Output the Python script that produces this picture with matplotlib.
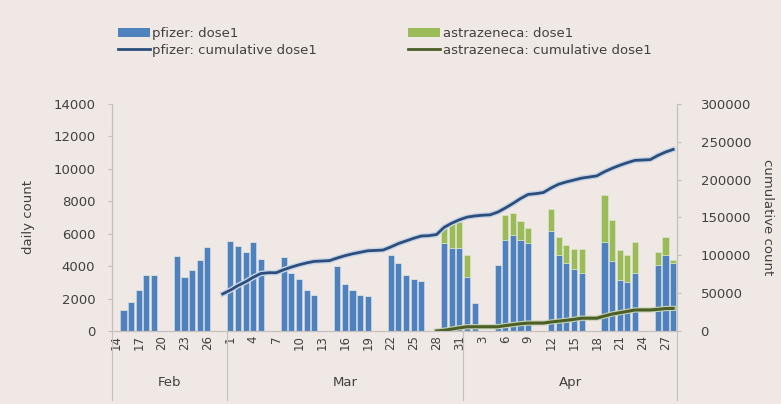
import numpy as np
import pandas as pd
import matplotlib
matplotlib.use("Agg")
import matplotlib.pyplot as plt
import matplotlib.patheffects as pe
import matplotlib.transforms as mtrans
from matplotlib.patches import Patch
from matplotlib.lines import Line2D

plt.rcParams['font.family'] = ['DejaVu Sans']

# category axis: every day from 14 Feb to 28 Apr 2021
days = pd.date_range('2021-02-14', '2021-04-28', freq='D')

# daily first doses (weekdays only)
dose_days = ['2021-02-15', '2021-02-16', '2021-02-17', '2021-02-18', '2021-02-19',
             '2021-02-22', '2021-02-23', '2021-02-24', '2021-02-25', '2021-02-26',
             '2021-03-01', '2021-03-02', '2021-03-03', '2021-03-04', '2021-03-05',
             '2021-03-08', '2021-03-09', '2021-03-10', '2021-03-11', '2021-03-12',
             '2021-03-15', '2021-03-16', '2021-03-17', '2021-03-18', '2021-03-19',
             '2021-03-22', '2021-03-23', '2021-03-24', '2021-03-25', '2021-03-26',
             '2021-03-29', '2021-03-30', '2021-03-31', '2021-04-01', '2021-04-02',
             '2021-04-05', '2021-04-06', '2021-04-07', '2021-04-08', '2021-04-09',
             '2021-04-12', '2021-04-13', '2021-04-14', '2021-04-15', '2021-04-16',
             '2021-04-19', '2021-04-20', '2021-04-21', '2021-04-22', '2021-04-23',
             '2021-04-26', '2021-04-27', '2021-04-28']
pfizer_dose1 = [1300, 1800, 2500, 3450, 3450,
                4600, 3350, 3750, 4350, 5200,
                5550, 5250, 4850, 5500, 4450,
                4550, 3550, 3200, 2500, 2250,
                4000, 2900, 2550, 2250, 2150,
                4700, 4200, 3450, 3200, 3100,
                5400, 5100, 5100, 3300, 1750,
                4050, 5600, 5900, 5600, 5400,
                6150, 4700, 4200, 3800, 3550,
                5500, 4300, 3150, 3050, 3550,
                4050, 4700, 4200]
az_dose1 = [0, 0, 0, 0, 0,
            0, 0, 0, 0, 0,
            0, 0, 0, 0, 0,
            0, 0, 0, 0, 0,
            0, 0, 0, 0, 0,
            0, 0, 0, 0, 0,
            1050, 1550, 1650, 1400, 0,
            0, 1550, 1350, 1200, 950,
            1350, 1100, 1100, 1250, 1500,
            2900, 2550, 1850, 1650, 1950,
            850, 1100, 200]

# cumulative first doses
pfizer_cum_start = '2021-02-28'
pfizer_cum = [49000,
              54000, 60000, 65000, 71000, 76000, 77000, 77000,
              81000, 84500, 87500, 90000, 92000, 92500, 93000,
              96500, 99500, 102000, 104000, 106000, 106500, 107000,
              111000, 115500, 119000, 122500, 125500, 126000, 127500,
              137000, 142500, 147000,
              150500, 152000, 153000, 153500,
              157000, 162500, 168500, 175000, 180500, 181500, 183000,
              189000, 194000, 197000, 199500, 202000, 203500, 205000,
              210500, 215000, 219000, 222500, 225500, 226000, 226500,
              232000, 236500, 240000]
az_cum_start = '2021-03-28'
az_cum = [0, 1000, 2500, 4200,
          5600, 5600, 5600, 5600,
          5600, 7100, 8400, 9600, 10500, 10500, 10500,
          11900, 13000, 14100, 15400, 16900, 16900, 16900,
          19800, 22400, 24200, 25900, 27800, 27800, 27800,
          28600, 29700, 29900]

months = ['Feb', 'Mar', 'Apr']

bg = '#f0e8e4'
txt = '#404040'
grey = '#c4c0bd'
c_pf = '#4f81bd'
c_az = '#9bbb59'

fig = plt.figure(figsize=(7.81, 4.04), dpi=100, facecolor=bg)
ax = fig.add_axes([112 / 781, 1 - 331 / 404, 565 / 781, 227 / 404], facecolor=bg)
ax2 = ax.twinx()

x_dose = np.array([days.get_loc(pd.Timestamp(d)) for d in dose_days])
ax.bar(x_dose, pfizer_dose1, width=0.8, color=c_pf, edgecolor='#d6e0ee', linewidth=0.4)
ax.bar(x_dose, az_dose1, width=0.8, bottom=pfizer_dose1, color=c_az,
       edgecolor='#e0ead0', linewidth=0.4)

i0 = days.get_loc(pd.Timestamp(pfizer_cum_start))
ax2.plot(np.arange(i0, i0 + len(pfizer_cum)), pfizer_cum, color='#2c4e7c', lw=2.0,
         path_effects=[pe.Stroke(linewidth=4, foreground='#c9d5e6'), pe.Normal()])
j0 = days.get_loc(pd.Timestamp(az_cum_start))
ax2.plot(np.arange(j0, j0 + len(az_cum)), az_cum, color='#4b5f27', lw=2.2,
         path_effects=[pe.Stroke(linewidth=3.8, foreground='#c8d2b4'), pe.Normal()])

ax.set_xlim(-0.5, len(days) - 0.5)
ax.set_ylim(0, 14000)
ax.set_yticks(np.arange(0, 14001, 2000))
ax2.set_ylim(0, 300000)
ax2.set_yticks(np.arange(0, 300001, 50000))

tick_idx = np.arange(0, len(days), 3)
ax.set_xticks(tick_idx)
ax.set_xticklabels([str(days[i].day) for i in tick_idx], rotation=90, fontsize=8.5,
                   color=txt)
ax.tick_params(axis='x', length=0, pad=3)
ax.tick_params(axis='y', length=3, color=grey, labelsize=9.5, labelcolor=txt, pad=9)
ax2.tick_params(axis='y', length=3, color=grey, labelsize=9.5, labelcolor=txt, pad=14)

for a in (ax, ax2):
    a.spines['top'].set_visible(False)
    for s in ('left', 'right', 'bottom'):
        a.spines[s].set_color(grey)
        a.spines[s].set_linewidth(0.8)

ax.set_ylabel('daily count', fontsize=9.5, color=txt)
ax.yaxis.set_label_coords(-0.136, 0.5)
ax2.set_ylabel('cumulative count', fontsize=9.5, color=txt, rotation=270, va='center')
ax2.yaxis.set_label_coords(1.161, 0.5)

# month groups under the day labels
trans = mtrans.blended_transform_factory(ax.transData, ax.transAxes)
bounds = [-0.5]
for m in (3, 4):
    bounds.append(days.get_loc(pd.Timestamp(f'2021-0{m}-01')) - 0.5)
bounds.append(len(days) - 0.5)
for b in bounds:
    ax.plot([b, b], [0, -0.305], transform=trans, color=grey, lw=0.8, clip_on=False)
for k, name in enumerate(months):
    ax.text((bounds[k] + bounds[k + 1]) / 2, -0.229, name, transform=trans,
            ha='center', va='center', fontsize=9.5, color=txt)

handles = [Patch(facecolor=c_pf, edgecolor='none'),
           Line2D([], [], color='#2c4e7c', lw=2),
           Patch(facecolor=c_az, edgecolor='none'),
           Line2D([], [], color='#4b5f27', lw=2)]
labels = ['pfizer: dose1', 'pfizer: cumulative dose1',
          'astrazeneca: dose1', 'astrazeneca: cumulative dose1']
fig.legend(handles, labels, loc='upper left', bbox_to_anchor=(0.136, 0.9625), ncol=2,
           frameon=False, fontsize=9.5, labelcolor=txt, handlelength=2.4,
           handletextpad=0.2, columnspacing=6.9, labelspacing=0.3)

fig.savefig('out.png', dpi=100, facecolor=bg)
